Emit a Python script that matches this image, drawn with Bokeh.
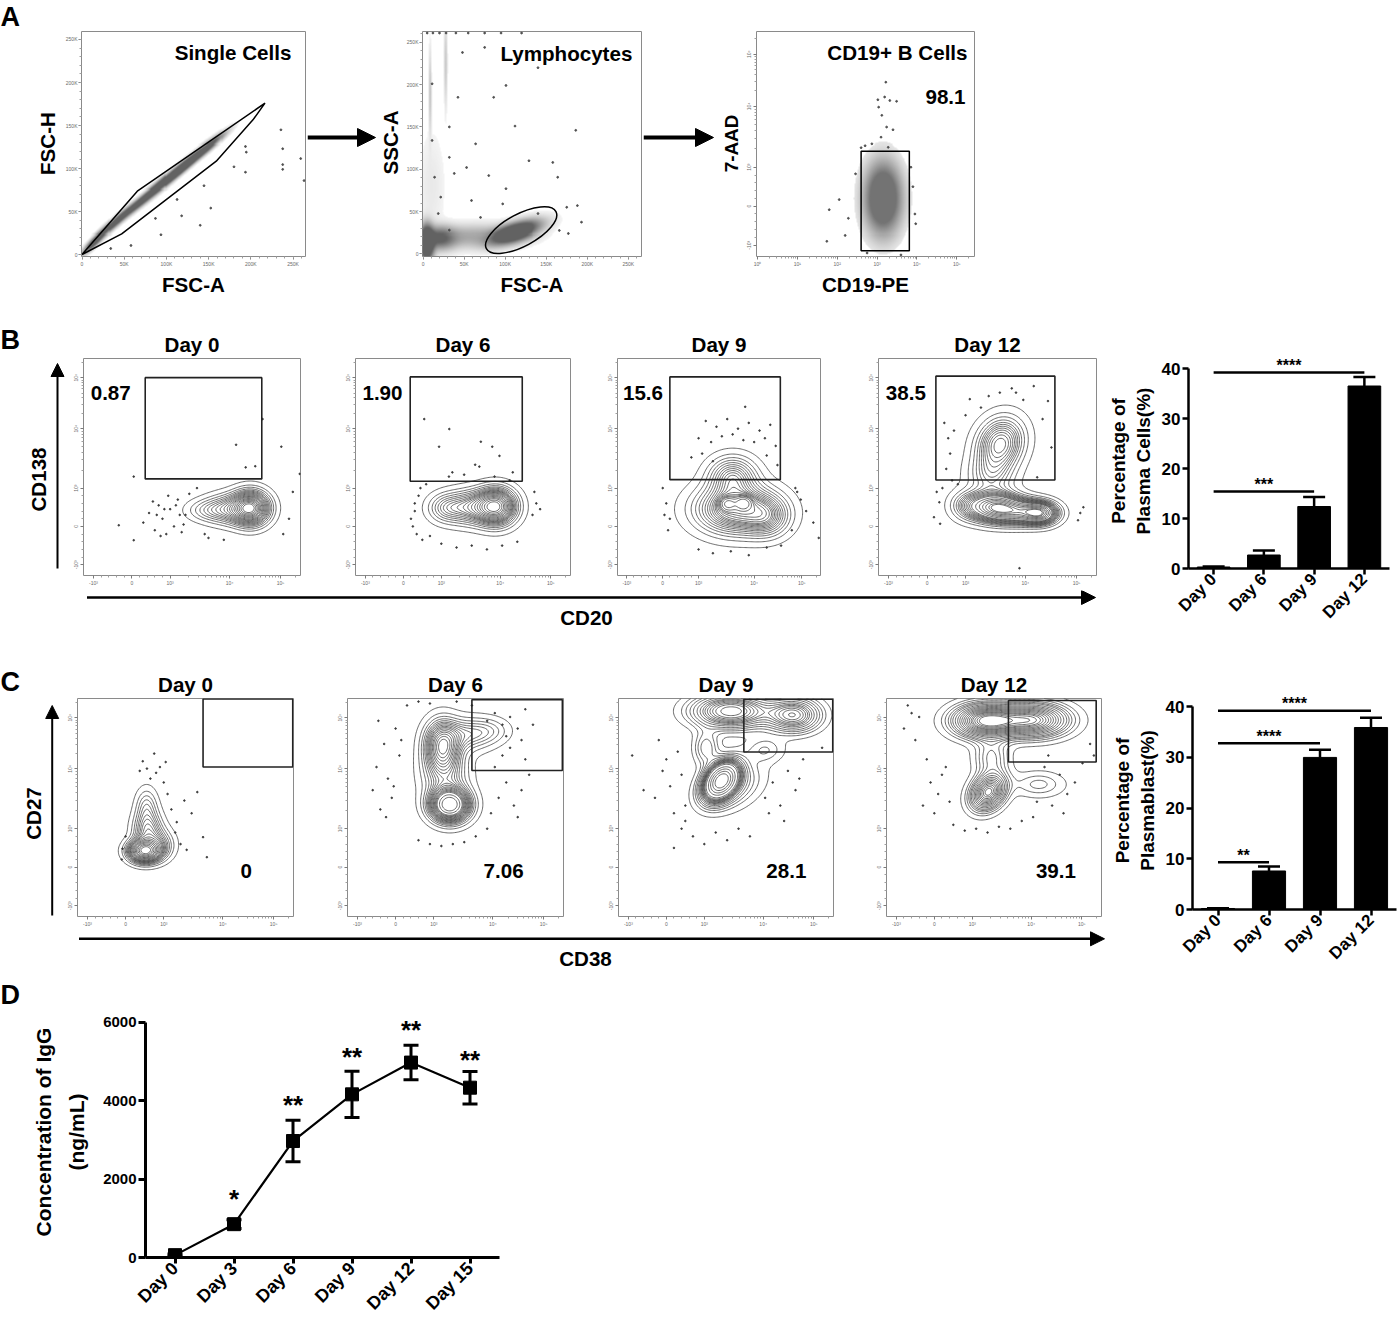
import math
import subprocess
import numpy as np
from bokeh.plotting import figure
from bokeh.models import (Range1d, FixedTicker, Label, Arrow, NormalHead, TeeHead,
                          Whisker, ColumnDataSource)
from bokeh.layouts import row, column
from bokeh.embed import file_html
from bokeh.resources import INLINE
from bokeh.core.properties import value

# ============================ DATA ============================
# ---- Panel A (gating) ----
A1_gate_x = [0, 65.5, 216.7, 202.5, 159, 47, 0]          # FSC-A (x1000)
A1_gate_y = [0, 73.6, 176, 156.6, 108.5, 24, 0]          # FSC-H (x1000)
# population clouds: (centre x, centre y, sd x, sd y, correlation, weight)
A1_cloud = [(15, 15, 8, 8, 0.90, 0.6), (40, 38, 12, 11, 0.95, 0.8), (70, 62, 14, 12, 0.96, 1.0),
            (100, 86, 15, 13, 0.96, 1.4), (125, 106, 14, 12, 0.96, 1.5), (150, 125, 12, 10, 0.95, 0.6)]
A1_out_x = [235.6, 237.7, 237.7, 237.7, 259, 193.6, 194.6, 193.6, 180, 152.5, 144.5, 118, 140,
            93.5, 112.6, 87, 58, 263, 34]
A1_out_y = [145, 123, 104.6, 99, 111.6, 125.6, 119, 95.7, 102, 54, 80, 45, 34, 23, 64, 42, 10.5, 86, 7]

A2_gate = (119.5, 28.0, 96.0, 38.0, 28.0)                 # ellipse: cx, cy, width, height, angle(deg)
A2_cloud = [(60, 20, 35, 8, 0.1, 0.8), (112, 25, 18, 8, 0.6, 2.0), (4, 12, 5, 12, 0.0, 1.2),
            (20, 18, 12, 8, 0.0, 0.7), (10, 80, 10, 40, 0.0, 0.12),
            (8, 190, 1.0, 30, 0.0, 0.05), (27, 225, 1.2, 30, 0.0, 0.05)]
A2_out_x = [48, 75, 112, 86, 42.5, 101, 140, 158, 186, 164, 101, 80, 32, 64, 21.5, 59, 38, 11, 14,
            18.5, 140, 175, 188, 193, 177, 166, 32, 11, 53, 129, 97, 70, 32,
            5, 12, 20, 28, 40, 55, 75, 95, 120]
A2_out_y = [238, 244, 151, 185, 185, 199, 220, 108, 146, 90.5, 77, 92.5, 114, 130, 67, 63, 95, 134,
            90.5, 47.6, 47.6, 55, 57, 37.4, 24, 27.6, 150, 201, 102, 110, 59, 43, 28,
            261, 261, 261, 261, 261, 261, 261, 261, 261]

A3_gate = (2.6, 3.81, -1.14, 1.41)                        # left, right, bottom, top
A3_cloud = [(3.15, 0.2, 0.26, 0.52, 0.0, 1.0)]
A3_out_x = [3.22, 3.19, 3.04, 3.32, 3.49, 3.12, 3.24, 3.4, 3.1, 3.28, 2.87, 3.02, 2.46, 2.05, 1.8,
            1.74, 2.2, 2.28, 3.95, 3.97, 2.6, 2.7, 3.9, 3.85, 2.75, 3.6]
A3_out_y = [3.18, 2.8, 2.54, 2.71, 2.69, 2.33, 2.03, 1.96, 1.77, 1.51, 1.6, 2.73, 0.83, 0.17, -0.09,
            -0.9, -0.75, -0.31, -0.2, -0.45, 1.5, 1.55, 0.5, 1.0, -1.2, -1.25]
A3_pct = "98.1"

# ---- Panel B (CD20 vs CD138) ----
DAYS4 = ["Day 0", "Day 6", "Day 9", "Day 12"]
B_pct = ["0.87", "1.90", "15.6", "38.5"]
B_gates = [(0.35, 3.39, 1.24, 3.88), (0.18, 3.13, 1.18, 3.90), (0.20, 3.28, 1.22, 3.90),
           (0.23, 3.32, 1.21, 3.92)]
B_peaks = [
    [(3.10, 0.48, 0.30, 0.27, 0.0, 1.00), (2.55, 0.45, 0.40, 0.24, 0.0, 0.45),
     (1.95, 0.42, 0.35, 0.18, 0.0, 0.12)],
    [(2.45, 0.52, 0.33, 0.30, 0.0, 1.00), (1.80, 0.50, 0.45, 0.28, 0.0, 0.65),
     (1.10, 0.48, 0.30, 0.24, 0.0, 0.18)],
    [(2.05, 0.45, 0.70, 0.40, 0.0, 1.00), (1.95, 1.30, 0.42, 0.33, 0.0, 0.30),
     (1.82, 0.59, 0.14, 0.11, 0.0, 0.04), (2.25, 0.60, 0.14, 0.11, 0.0, 0.05),
     (2.90, 0.25, 0.40, 0.33, 0.0, 0.22)],
    [(1.90, 2.15, 0.40, 0.45, 0.15, 0.95), (1.65, 1.30, 0.40, 0.35, 0.0, 0.32),
     (1.75, 0.50, 0.42, 0.25, 0.0, 0.90), (2.40, 0.38, 0.40, 0.22, 0.0, 0.50),
     (2.95, 0.35, 0.30, 0.19, 0.0, 0.45), (1.05, 0.55, 0.30, 0.25, 0.0, 0.18)],
]
B_dots_x = [
    [0.05, -0.34, 0.05, 0.3, 0.45, 0.6, 0.7, 0.8, 0.9, 1.0, 1.1, 1.2, 1.3, 1.4, 1.5, 0.55, 0.75, 0.95,
     1.15, 1.35, 0.65, 0.85, 1.25, 2.72, 3.41, 3.9, 2.97, 3.22, 4.38, 4.1, 4.2, 3.95, 2.0, 2.4, 1.7, 1.9],
    [0.55, 1.21, 2.04, 2.34, 0.94, 2.53, 1.89, 2.0, 1.29, 2.88, 0.25, 0.3, 0.35, 0.4, 0.45, 0.2, 0.3,
     0.5, 1.0, 1.4, 1.8, 2.2, 2.6, 3.0, 3.4, 3.5, 3.6, 3.45, 1.2, 1.6, 2.4, 2.8, 0.6, 0.7],
    [2.3, 1.2, 1.5, 1.8, 2.1, 2.4, 2.7, 3.0, 1.0, 1.35, 1.65, 1.95, 2.25, 2.55, 2.85, 3.15, 0.8, 1.1,
     1.4, 2.9, 3.2, 0.0, 0.1, 0.2, 0.05, 0.15, 3.7, 3.85, 4.0, 4.2, 3.6, 3.75, 1.0, 1.4, 1.9, 2.4,
     2.9, 3.3, 4.35],
    [0.45, 0.55, 0.6, 0.5, 0.7, 0.65, 2.77, 2.31, 1.11, 1.89, 3.14, 3.23, 2.86, 0.18, 0.32, 0.34, 0.25,
     3.92, 4.06, 3.98, 2.4, 1.4, 2.5, 1.0, 3.0, 0.4, 0.8, 1.6, 2.2],
]
B_dots_y = [
    [1.3, 0.03, -0.36, 0.1, 0.35, -0.1, 0.55, 0.2, -0.2, 0.45, 0.0, 0.7, -0.15, 0.3, 0.85, 0.65, -0.25,
     0.8, 0.55, 0.05, 0.3, 0.45, 0.3, 2.13, 2.8, 2.08, 1.54, 1.57, 1.37, 0.2, 0.9, -0.2, -0.3, -0.35,
     1.0, -0.2],
    [2.8, 2.54, 2.21, 2.08, 2.08, 1.84, 1.61, 1.56, 1.41, 1.41, 0.0, 0.4, -0.2, 0.8, 1.0, 0.2, 0.6,
     -0.35, -0.45, -0.55, -0.5, -0.6, -0.5, -0.4, 0.3, 0.6, 0.45, 0.9, 1.3, 1.35, 1.3, 1.2, 1.1, -0.25],
    [3.12, 2.75, 2.6, 2.8, 2.55, 2.7, 2.5, 2.65, 2.3, 2.2, 2.35, 2.4, 2.25, 2.2, 2.3, 2.1, 1.8, 1.9,
     1.7, 1.85, 1.6, 1.0, 0.6, 0.2, 0.3, -0.1, 1.0, 0.7, 0.4, 0.1, -0.1, 0.9, -0.6, -0.7, -0.65,
     -0.75, -0.55, -0.5, -0.3],
    [2.7, 2.3, 1.9, 1.5, 2.5, 1.2, 3.66, 3.49, 3.32, 3.49, 3.27, 2.06, 1.28, 0.24, 0.63, 0.07, 0.9,
     0.16, 0.5, 0.35, -1.09, 3.1, 3.3, 2.9, 2.8, 1.0, 1.1, 3.4, 3.6],
]

# ---- Panel C (CD38 vs CD27) ----
C_pct = ["0", "7.06", "28.1", "39.1"]
C_gates = [(2.03, 4.38, 2.60, 4.37), (2.00, 4.37, 2.51, 4.35), (2.04, 4.38, 2.99, 4.36),
           (1.95, 4.26, 2.73, 4.33)]
C_peaks = [
    [(0.50, 0.42, 0.26, 0.18, 0.0, 1.00), (0.58, 0.95, 0.24, 0.33, 0.0, 0.55),
     (0.55, 1.60, 0.18, 0.30, 0.0, 0.18), (0.90, 0.60, 0.25, 0.25, 0.0, 0.25)],
    [(1.42, 1.62, 0.33, 0.28, 0.0, 1.00), (1.22, 3.15, 0.30, 0.42, 0.0, 0.75),
     (1.30, 2.40, 0.40, 0.42, 0.0, 0.40), (1.90, 3.45, 0.45, 0.28, 0.0, 0.30),
     (2.50, 3.55, 0.35, 0.22, 0.0, 0.08)],
    [(1.70, 4.05, 0.65, 0.28, 0.0, 0.90), (3.35, 3.95, 0.45, 0.28, 0.0, 0.50),
     (1.45, 2.25, 0.28, 0.30, 0.35, 1.00), (1.70, 2.10, 0.55, 0.42, 0.35, 0.35),
     (1.05, 3.10, 0.22, 0.30, 0.0, 0.10), (2.60, 3.05, 0.35, 0.22, 0.0, 0.07)],
    [(1.35, 3.80, 0.55, 0.28, 0.0, 0.90), (2.60, 3.82, 0.60, 0.28, 0.0, 0.85),
     (1.42, 1.95, 0.30, 0.30, 0.25, 0.45), (1.50, 2.85, 0.30, 0.33, 0.0, 0.15),
     (2.75, 2.15, 0.45, 0.22, 0.0, 0.10)],
]
C_dots_x = [
    [0.75, 0.56, 0.37, 1.05, 0.9, 0.65, 1.54, 1.88, 1.73, 2.03, 2.13, 1.34, 1.44, 1.6, 1.2, 1.1, 1.3,
     1.0, -0.08, -0.1, 0.0, 0.45, 0.8],
    [-0.6, -0.5, -0.4, -0.3, -0.2, -0.1, 0.0, 0.1, -0.45, -0.25, -0.05, 0.15, 2.5, 2.7, 2.9, 3.1, 3.3,
     3.5, 2.6, 2.8, 3.0, 3.2, 3.4, 2.4, 2.6, 2.8, 3.0, 3.2, 3.4, 3.6, 2.9, 3.3, 0.6, 0.9, 1.2, 1.5,
     1.8, 2.1, 2.4, 0.3, 0.6, 0.9, 1.6, 2.0],
    [-0.3, -0.1, 0.1, 0.3, 0.5, -0.2, 0.0, 0.2, 0.4, 0.4, 0.7, 1.0, 1.3, 1.6, 1.9, 2.2, 0.2, 0.5, 2.6,
     2.8, 3.0, 3.2, 3.4, 3.6, 2.7, 3.1, 3.5, -0.9, -0.6, 4.1],
    [-0.3, -0.1, 0.1, 0.3, -0.2, 0.0, 0.2, 0.4, 0.5, 0.8, 1.1, 1.4, 1.7, 2.0, 2.3, 2.6, 2.7, 2.9, 3.1,
     3.3, 3.5, 3.7, 3.9, 3.0, 3.4, -0.8, -0.6, -0.5, -0.7, -0.4, 4.1, 4.2],
]
C_dots_y = [
    [2.95, 2.56, 2.5, 2.73, 2.6, 2.3, 1.73, 1.95, 1.4, 0.78, 0.26, 1.17, 0.6, 0.45, 1.5, 1.9, 0.9,
     2.2, 0.48, 0.2, 0.8, 2.75, 2.45],
    [2.0, 2.6, 1.5, 3.2, 2.3, 1.8, 3.6, 2.9, 3.8, 1.3, 2.1, 3.3, 1.4, 1.8, 2.2, 1.6, 2.0, 2.4, 2.6,
     2.9, 3.1, 1.3, 2.8, 3.8, 4.0, 3.7, 3.9, 3.6, 4.1, 3.7, 3.4, 3.3, 0.7, 0.6, 0.55, 0.6, 0.65, 0.8,
     1.0, 4.2, 4.3, 4.25, 4.3, 4.2],
    [1.8, 2.5, 2.1, 3.0, 1.6, 3.3, 2.8, 1.4, 2.4, 1.0, 0.8, 0.6, 0.9, 0.7, 1.0, 0.8, 0.5, 1.2, 1.8,
     2.2, 1.6, 2.5, 2.0, 2.8, 1.4, 1.2, 2.3, 2.9, 2.0, 3.1],
    [1.6, 2.2, 1.9, 2.6, 2.8, 1.4, 2.4, 1.7, 1.1, 0.95, 1.0, 0.9, 1.05, 1.0, 1.2, 1.3, 1.7, 2.6, 1.6,
     2.4, 1.9, 2.2, 2.7, 2.9, 1.4, 3.6, 4.0, 3.3, 4.2, 3.9, 3.2, 2.9],
]

# ---- Bar charts ----
BAR_cats = ["Day 0", "Day 6", "Day 9", "Day 12"]
PC_mean = [0.3, 2.7, 12.4, 36.5]          # % plasma cells
PC_err = [0.1, 0.9, 1.9, 1.8]
PC_sig_from = [0, 0]
PC_sig_to = [3, 2]
PC_sig_y = [39.2, 15.4]
PC_sig_text = ["****", "***"]
PB_mean = [0.2, 7.6, 30.0, 35.9]          # % plasmablasts
PB_err = [0.05, 0.9, 1.5, 1.9]
PB_sig_from = [0, 0, 0]
PB_sig_to = [3, 2, 1]
PB_sig_y = [39.2, 32.8, 9.3]
PB_sig_text = ["****", "****", "**"]

# ---- Panel D ----
D_cats = ["Day 0", "Day 3", "Day 6", "Day 9", "Day 12", "Day 15"]
D_mean = [60, 850, 2970, 4160, 4970, 4330]
D_err = [30, 110, 530, 590, 440, 415]
D_sig = ["", "*", "**", "**", "**", "**"]
D_sig_y = [0, 1483, 3887, 5108, 5813, 5044]

# ============================ STYLE ============================
def _has_font(name):
    try:
        out = subprocess.run(["fc-list"], capture_output=True, text=True, timeout=10).stdout
    except Exception:
        return False
    return name in out


if _has_font("Liberation Sans Narrow"):
    FN, NS = "Liberation Sans Narrow", 1.0
else:
    FN, NS = "Liberation Sans", 0.86
ARIAL = "Liberation Sans"


def fs(px):
    return f"{px * NS:.1f}px"


def density(xs, ys, comps):
    X, Y = np.meshgrid(xs, ys)
    Z = np.zeros_like(X)
    for cx, cy, sx, sy, r, w in comps:
        dx = (X - cx) / sx
        dy = (Y - cy) / sy
        q = (dx * dx - 2 * r * dx * dy + dy * dy) / (1 - r * r)
        Z += w / (sx * sy * math.sqrt(1 - r * r)) * np.exp(-0.5 * q)
    return Z


FRACS = [0.97 - 0.05 * i for i in range(19)]


def mass_levels(Z):
    z = np.sort(Z.ravel())[::-1]
    c = np.cumsum(z)
    c /= c[-1]
    return sorted(set(float(z[min(int(np.searchsorted(c, f)), len(z) - 1)]) for f in FRACS))


def biex_minor(t):
    m = [-0.8, -0.6, -0.4, -0.2, 0.2, 0.4, 0.6, 0.8]
    for k in range(2, 10):
        m.append(t[2] + (t[3] - t[2]) * math.log10(k))
        m.append(t[3] + (t[4] - t[3]) * math.log10(k))
    for k in (2, 3):
        m.append(t[4] + (t[4] - t[3]) * math.log10(k))
    return [float(v) for v in m]


BX_T = [-1, 0, 1, 2.55, 3.88]
BX_L = ["-10³", "0", "10³", "10⁴", "10⁵"]
BX_R = (-1.26, 4.40)
BY_R = (-1.28, 4.38)
LIN_T = [0, 50, 100, 150, 200, 250]
LIN_L = ["0", "50K", "100K", "150K", "200K", "250K"]
LIN_M = [float(v) for v in range(0, 270, 10)]
LOG_T = [0, 1, 2, 3, 4, 5]
LOG_L = ["10⁰", "10¹", "10²", "10³", "10⁴", "10⁵"]
LOG_M = [float(d + math.log10(k)) for d in range(0, 6) for k in range(2, 10) if d + math.log10(k) < 5.44]
A3Y_T = [-1, 0, 1, 2.56, 3.9]


def canvas(x0, y0, w, h, bt=0, bb=0, title=None, standoff=0):
    """Blank drawing area whose data coordinates are page pixels (y downwards)."""
    kw = dict(width=w, height=h, x_range=Range1d(x0, x0 + w), y_range=Range1d(y0 + h - bb, y0 + bt),
              output_backend="svg", toolbar_location=None, min_border_left=0, min_border_right=0,
              min_border_top=bt, min_border_bottom=bb, x_axis_location=None, y_axis_location=None)
    if title:
        kw["title"] = title
    p = figure(**kw)
    p.outline_line_color = None
    p.grid.visible = False
    if title:
        p.title.align = "left"
        p.title.text_font = ARIAL
        p.title.text_font_size = "27px"
        p.title.text_font_style = "bold"
        p.title.text_color = "black"
        if hasattr(p.title, "standoff"):
            p.title.standoff = standoff
    return p


def label(p, x, y, text, size, font=None, bold=True, angle=0.0, align="center", baseline="middle"):
    p.add_layout(Label(x=x, y=y, text=text, text_font=font or FN, text_font_size=size,
                       text_font_style="bold" if bold else "normal", angle=angle,
                       text_align=align, text_baseline=baseline, text_color="black"))


def arrow(p, x0, y0, x1, y1, lw, head):
    p.add_layout(Arrow(end=NormalHead(size=head, fill_color="black", line_color="black", line_width=1),
                       x_start=x0, y_start=y0, x_end=x1, y_end=y1, line_width=lw, line_color="black"))


def flow_fig(w, h, bl, br, bt, bb, xr, yr, xt, xl, xm, yt, yl, ym, title=None, xlabel=None,
             yvert=True):
    kw = dict(width=w, height=h, x_range=Range1d(*xr), y_range=Range1d(*yr), output_backend="svg",
              toolbar_location=None, min_border_left=bl, min_border_right=br, min_border_top=bt,
              min_border_bottom=bb)
    if title:
        kw["title"] = title
    p = figure(**kw)
    p.grid.visible = False
    p.outline_line_color = "#8a8a8a"
    p.outline_line_width = 1
    for ax, t, l, m in ((p.xaxis[0], xt, xl, xm), (p.yaxis[0], yt, yl, ym)):
        ax.ticker = FixedTicker(ticks=[float(v) for v in t], minor_ticks=m)
        ax.major_label_overrides = {float(a): b for a, b in zip(t, l)}
        ax.axis_line_color = None
        ax.major_tick_line_color = "#7a7a7a"
        ax.major_tick_out = 3
        ax.major_tick_in = 0
        ax.minor_tick_line_color = "#a0a0a0"
        ax.minor_tick_out = 2
        ax.minor_tick_in = 0
        ax.major_label_text_font_size = "5px"
        ax.major_label_text_color = "#6a6a6a"
        ax.major_label_standoff = 1
    if yvert:
        p.yaxis[0].major_label_orientation = "vertical"
    if title:
        p.title.align = "center"
        p.title.text_font = FN
        p.title.text_font_size = fs(24)
        p.title.text_font_style = "bold"
        p.title.text_color = "black"
        if hasattr(p.title, "standoff"):
            p.title.standoff = 6
    if xlabel:
        ax = p.xaxis[0]
        ax.axis_label = xlabel
        ax.axis_label_text_font = FN
        ax.axis_label_text_font_size = fs(24)
        ax.axis_label_text_font_style = "bold"
        ax.axis_label_text_color = "black"
        ax.axis_label_standoff = 3
    return p


def cloud_image(p, xr, yr, comps, n=220, gain=3.0, gamma=0.6, amax=0.9, rgb=(80, 80, 80),
                cutoff=0.004):
    xs = np.linspace(xr[0], xr[1], n)
    ys = np.linspace(yr[0], yr[1], n)
    Z = density(xs, ys, comps)
    a = np.clip(Z / Z.max() * gain, 0, 1) ** gamma * amax
    a[Z < Z.max() * cutoff] = 0
    img = np.zeros((n, n), dtype=np.uint32)
    v = img.view(dtype=np.uint8).reshape((n, n, 4))
    v[..., 0] = rgb[0]
    v[..., 1] = rgb[1]
    v[..., 2] = rgb[2]
    v[..., 3] = (a * 255).astype(np.uint8)
    p.image_rgba(image=[img], x=xr[0], y=yr[0], dw=xr[1] - xr[0], dh=yr[1] - yr[0])


def flow_text(p, x, y, text, size=24, align="center"):
    p.text(x=[x], y=[y], text=[text], text_font=value(FN), text_font_size=fs(size),
           text_font_style="bold", text_align=align, text_baseline="middle", text_color="black")


def contour_fig(w, h, bl, br, bt, bb, title, peaks, dx, dy, gate, pct, pct_xy):
    p = flow_fig(w, h, bl, br, bt, bb, BX_R, BY_R, BX_T, BX_L, biex_minor(BX_T),
                 BX_T, BX_L, biex_minor(BX_T), title=title)
    xs = np.linspace(BX_R[0], BX_R[1], 170)
    ys = np.linspace(BY_R[0], BY_R[1], 170)
    Z = density(xs, ys, peaks)
    p.contour(x=xs, y=ys, z=Z, levels=mass_levels(Z), line_color="#3a3a3a", line_width=0.75)
    p.scatter(dx, dy, size=1.6, color="#3a3a3a")
    p.quad(left=[gate[0]], right=[gate[1]], bottom=[gate[2]], top=[gate[3]], fill_color=None,
           line_color="#222222", line_width=1.6)
    flow_text(p, pct_xy[0], pct_xy[1], pct)
    return p


def style_axes(p, xt, xl, yt, ybounds, tick_px, lw):
    xa, ya = p.xaxis[0], p.yaxis[0]
    for ax in (xa, ya):
        ax.axis_line_width = lw
        ax.axis_line_color = "black"
        ax.major_tick_line_width = lw
        ax.major_tick_line_color = "black"
        ax.major_tick_out = 6
        ax.major_tick_in = 0
        ax.minor_tick_line_color = None
        ax.major_label_text_font = ARIAL
        ax.major_label_text_font_style = "bold"
        ax.major_label_text_font_size = tick_px
        ax.major_label_text_color = "black"
        ax.major_label_standoff = 2
    xa.ticker = FixedTicker(ticks=[float(v) for v in xt])
    xa.major_label_overrides = {float(a): b for a, b in zip(xt, xl)}
    xa.major_label_orientation = math.pi / 4
    ya.ticker = FixedTicker(ticks=[float(v) for v in yt])
    ya.bounds = ybounds


def bar_fig(w, h, bl, br, bt, bb, cats, vals, errs, sfrom, sto, sy, stext, ylabel, standoff):
    n = len(cats)
    p = figure(width=w, height=h, x_range=Range1d(0, n), y_range=Range1d(0, 43),
               output_backend="svg", toolbar_location=None, min_border_left=bl,
               min_border_right=br, min_border_top=bt, min_border_bottom=bb)
    p.grid.visible = False
    p.outline_line_color = None
    xs = [i + 0.5 for i in range(n)]
    src = ColumnDataSource(dict(x=xs, top=list(vals), upper=[v + e for v, e in zip(vals, errs)]))
    p.add_layout(Whisker(source=src, base="x", lower="top", upper="upper", dimension="height",
                         line_width=2.5, line_color="black",
                         upper_head=TeeHead(size=22, line_width=2.5, line_color="black"),
                         lower_head=None))
    p.vbar(x="x", top="top", bottom=0, width=0.65, source=src, fill_color="black",
           line_color="black")
    p.segment(x0=[f + 0.5 for f in sfrom], x1=[t + 0.5 for t in sto], y0=sy, y1=sy,
              line_width=2.5, line_color="black")
    p.text(x=[(f + t) / 2 + 0.5 for f, t in zip(sfrom, sto)], y=[v + 1.4 for v in sy], text=stext,
           text_align="center", text_baseline="alphabetic", text_font=value(ARIAL),
           text_font_size="16px", text_font_style="bold", text_color="black")
    style_axes(p, xs, cats, [0, 10, 20, 30, 40], (0, 40), "17px", 2.5)
    ya = p.yaxis[0]
    ya.axis_label = ylabel
    ya.axis_label_text_font = ARIAL
    ya.axis_label_text_font_size = "19px"
    ya.axis_label_text_font_style = "bold"
    ya.axis_label_text_color = "black"
    ya.axis_label_text_line_height = 1.15
    ya.axis_label_standoff = standoff
    return p


# ============================ BAND A (y 0-305) ============================
cA0 = canvas(0, 0, 62, 305, 31, 49, title="A", standoff=-1)
label(cA0, 47, 143, "FSC-H", fs(24), angle=math.pi / 2)

A1 = flow_fig(245, 305, 18, 2, 31, 49, (-0.6, 264.7), (-2.3, 259.3), LIN_T, LIN_L, LIN_M,
              LIN_T, LIN_L, LIN_M, xlabel="FSC-A", yvert=False)
cloud_image(A1, (-0.6, 264.7), (-2.3, 259.3), A1_cloud)
A1.scatter(A1_out_x, A1_out_y, size=1.8, color="#505050")
A1.line(A1_gate_x, A1_gate_y, line_color="black", line_width=1.5)
flow_text(A1, 248, 235, "Single Cells", align="right")

cA1 = canvas(307, 0, 96, 305, 31, 49)
arrow(cA1, 307, 137, 375, 137, 4, 18)
label(cA1, 390, 142, "SSC-A", fs(24), angle=math.pi / 2)

A2 = flow_fig(240, 305, 16, 2, 31, 49, (-0.7, 266.1), (-3.2, 262.8), LIN_T, LIN_L, LIN_M,
              LIN_T, LIN_L, LIN_M, xlabel="FSC-A", yvert=False)
cloud_image(A2, (-0.7, 266.1), (-3.2, 262.8), A2_cloud)
A2.scatter(A2_out_x, A2_out_y, size=1.8, color="#505050")
A2.ellipse(x=[A2_gate[0]], y=[A2_gate[1]], width=[A2_gate[2]], height=[A2_gate[3]],
           angle=[math.radians(A2_gate[4])], fill_color=None, line_color="black", line_width=1.5)
flow_text(A2, 255, 236.8, "Lymphocytes", align="right")

cA2 = canvas(643, 0, 100, 305, 31, 49)
arrow(cA2, 643, 137, 713, 137, 4, 18)
label(cA2, 731, 143, "7-AAD", fs(22), angle=math.pi / 2)

A3R_x, A3R_y = (-0.025, 5.445), (-1.29, 4.48)
A3 = flow_fig(233, 305, 10, 2, 31, 49, A3R_x, A3R_y, LOG_T, LOG_L, LOG_M,
              A3Y_T, BX_L, biex_minor(A3Y_T), xlabel="CD19-PE", yvert=True)
cloud_image(A3, A3R_x, A3R_y, A3_cloud, gain=2.2, gamma=0.55, amax=0.8, cutoff=0.02)
A3.scatter(A3_out_x, A3_out_y, size=1.8, color="#505050")
A3.quad(left=[A3_gate[0]], right=[A3_gate[1]], bottom=[A3_gate[2]], top=[A3_gate[3]],
        fill_color=None, line_color="black", line_width=1.5)
flow_text(A3, 5.27, 3.94, "CD19+ B Cells", align="right")
flow_text(A3, 5.22, 2.79, A3_pct, align="right")

bandA = row(cA0, A1, cA1, A2, cA2, A3)

# ============================ BAND B (y 305-647) ============================
cB0 = canvas(0, 305, 70, 285, 53, 15, title="B", standoff=8)
label(cB0, 38, 479, "CD138", fs(24), angle=math.pi / 2)
arrow(cB0, 57, 568, 57, 363, 2, 13)

B_dims = [(272, 12, 42), (262, 12, 34), (261, 12, 45), (235, 12, 4)]
B_figs = []
for i in range(4):
    w, bl, br = B_dims[i]
    B_figs.append(contour_fig(w, 285, bl, br, 53, 15, DAYS4[i], B_peaks[i], B_dots_x[i],
                              B_dots_y[i], B_gates[i], B_pct[i], (-0.55, 3.48)))

cBb = canvas(0, 590, 1100, 57)
arrow(cBb, 86.5, 597, 1095, 597, 2.5, 14)
label(cBb, 586, 617, "CD20", fs(24))

Bbar = bar_fig(297, 342, 88, 8, 48, 79, BAR_cats, PC_mean, PC_err, PC_sig_from, PC_sig_to,
               PC_sig_y, PC_sig_text, "Percentage of\nPlasma Cells(%)", 5)

bandB = row(column(row(cB0, *B_figs), cBb), Bbar)

# ============================ BAND C (y 647-980) ============================
cC0 = canvas(0, 647, 64, 283, 51, 14, title="C", standoff=4)
label(cC0, 32.5, 813, "CD27", fs(24), angle=math.pi / 2)
arrow(cC0, 51.7, 915, 51.7, 705, 2, 13)

C_dims = [(270, 12, 41), (271, 12, 42), (268, 12, 40), (232, 12, 4)]
C_pct_xy = [(3.16, -0.09), (2.83, -0.09), (3.16, -0.09), (3.2, -0.09)]
C_figs = []
for i in range(4):
    w, bl, br = C_dims[i]
    C_figs.append(contour_fig(w, 283, bl, br, 51, 14, DAYS4[i], C_peaks[i], C_dots_x[i],
                              C_dots_y[i], C_gates[i], C_pct[i], C_pct_xy[i]))

cCb = canvas(0, 930, 1105, 50)
arrow(cCb, 78.5, 938.3, 1104, 938.3, 2.5, 14)
label(cCb, 585, 958, "CD38", fs(24))

Cbar = bar_fig(292, 333, 87, 1, 44, 71, BAR_cats, PB_mean, PB_err, PB_sig_from, PB_sig_to,
               PB_sig_y, PB_sig_text, "Percentage of\nPlasmablast(%)", 5)

bandC = row(column(row(cC0, *C_figs), cCb), Cbar)

# ============================ BAND D (y 980-1326) ============================
cD0 = canvas(0, 980, 28, 346, 25, 69, title="D", standoff=-6)

Dp = figure(width=481, height=346, x_range=Range1d(0, len(D_cats)), y_range=Range1d(0, 6400),
            output_backend="svg", toolbar_location=None, min_border_left=115,
            min_border_right=10, min_border_top=25, min_border_bottom=69)
Dp.grid.visible = False
Dp.outline_line_color = None
dx = [i + 0.5 for i in range(len(D_cats))]
dsrc = ColumnDataSource(dict(x=dx, m=D_mean, lo=[m - e for m, e in zip(D_mean, D_err)],
                             hi=[m + e for m, e in zip(D_mean, D_err)]))
Dp.line("x", "m", source=dsrc, line_width=2.2, line_color="black")
Dp.add_layout(Whisker(source=dsrc, base="x", lower="lo", upper="hi", dimension="height",
                      line_width=3, line_color="black",
                      upper_head=TeeHead(size=15, line_width=3, line_color="black"),
                      lower_head=TeeHead(size=15, line_width=3, line_color="black")))
Dp.scatter("x", "m", source=dsrc, marker="square", size=13, color="black")
Dp.text(x=dx, y=D_sig_y, text=D_sig, text_align="center", text_baseline="alphabetic",
        text_font=value(ARIAL), text_font_size="26px", text_font_style="bold", text_color="black")
style_axes(Dp, dx, D_cats, [0, 2000, 4000, 6000], (0, 6000), "15px", 3)
Dp.xaxis[0].major_label_text_font_size = "18px"
Dp.yaxis[0].major_tick_out = 7
ya = Dp.yaxis[0]
ya.axis_label = "Concentration of IgG\n(ng/mL)"
ya.axis_label_text_font = ARIAL
ya.axis_label_text_font_size = "21px"
ya.axis_label_text_font_style = "bold"
ya.axis_label_text_color = "black"
ya.axis_label_text_line_height = 1.45
ya.axis_label_standoff = 12

bandD = row(cD0, Dp)

page = column(bandA, bandB, bandC, bandD)
open("out.html", "w").write(file_html(page, INLINE))
